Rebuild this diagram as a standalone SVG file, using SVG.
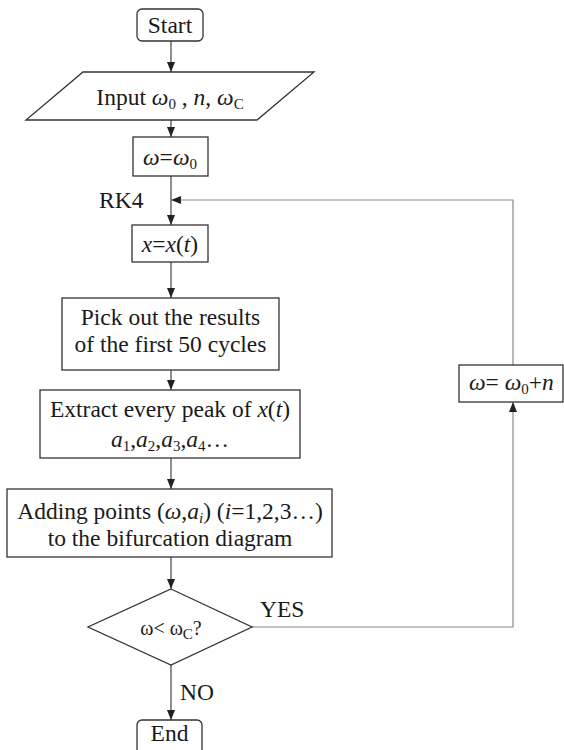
<svg xmlns="http://www.w3.org/2000/svg" width="564" height="750" viewBox="0 0 564 750" font-family="'Liberation Serif', 'Times New Roman', serif">
<style>
  .box{fill:#fff;stroke:#333;stroke-width:1.3}
  .t{font-family:'Liberation Serif','Times New Roman',serif;font-size:23.5px;fill:#1a1a1a}
  .c{text-anchor:middle}
  .i{font-style:italic}
  .s{font-size:15px}
  .ln{fill:none;stroke:#444;stroke-width:1.2}
  .fb{fill:none;stroke:#888;stroke-width:1.2}
</style>
<defs>
  <marker id="ah" markerUnits="userSpaceOnUse" markerWidth="10" markerHeight="10" viewBox="0 0 10 10" refX="10" refY="5" orient="auto">
    <path d="M0,1 L10,5 L0,9 Z" fill="#222"/>
  </marker>
</defs>
<rect width="564" height="750" fill="#fff"/>

<g id="connectors">
  <line class="ln" x1="171" y1="41" x2="171" y2="72" marker-end="url(#ah)"/>
  <line class="ln" x1="171" y1="120" x2="171" y2="137" marker-end="url(#ah)"/>
  <line class="ln" x1="171" y1="176" x2="171" y2="225" marker-end="url(#ah)"/>
  <line class="ln" x1="171" y1="262" x2="171" y2="298" marker-end="url(#ah)"/>
  <line class="ln" x1="171" y1="370" x2="171" y2="390" marker-end="url(#ah)"/>
  <line class="ln" x1="171" y1="458" x2="171" y2="489" marker-end="url(#ah)"/>
  <line class="ln" x1="171" y1="557" x2="171" y2="589" marker-end="url(#ah)"/>
  <line class="ln" x1="171" y1="665" x2="171" y2="720" marker-end="url(#ah)"/>
  <polyline class="fb" points="252,627 513,627 513,402" marker-end="url(#ah)"/>
  <polyline class="fb" points="513,365 513,200 171,200" marker-end="url(#ah)"/>
  <text class="t" x="99" y="208">RK4</text>
  <text class="t" x="260" y="617">YES</text>
  <text class="t" x="180" y="700">NO</text>
</g>

<g id="start">
  <rect class="box" x="137" y="9" width="66" height="32" rx="5"/>
  <text class="t c" x="170" y="33">Start</text>
</g>

<g id="input">
  <polygon class="box" points="83,72 314,72 257,120 26,120"/>
  <text class="t c" x="170" y="105">Input <tspan class="i">ω</tspan><tspan class="s" dy="4">0</tspan><tspan dy="-4"> , </tspan><tspan class="i">n</tspan>, <tspan class="i">ω</tspan><tspan class="s" dy="4">C</tspan></text>
</g>

<g id="init">
  <rect class="box" x="133" y="137" width="75" height="39"/>
  <text class="t c" x="170" y="165"><tspan class="i">ω</tspan>=<tspan class="i">ω</tspan><tspan class="s" dy="4">0</tspan></text>
</g>

<g id="solve">
  <rect class="box" x="132" y="225" width="76" height="37"/>
  <text class="t c" x="170" y="252"><tspan class="i">x</tspan>=<tspan class="i">x</tspan>(<tspan class="i">t</tspan>)</text>
</g>

<g id="pick">
  <rect class="box" x="62" y="298" width="217" height="72"/>
  <text class="t c" x="170.5" y="325">Pick out the results</text>
  <text class="t c" x="170.5" y="352">of the first 50 cycles</text>
</g>

<g id="extract">
  <rect class="box" x="40" y="390" width="260" height="68"/>
  <text class="t c" x="170" y="417">Extract every peak of <tspan class="i">x</tspan>(<tspan class="i">t</tspan>)</text>
  <text class="t c" x="170" y="447"><tspan class="i">a</tspan><tspan class="s" dy="4">1</tspan><tspan dy="-4">,</tspan><tspan class="i">a</tspan><tspan class="s" dy="4">2</tspan><tspan dy="-4">,</tspan><tspan class="i">a</tspan><tspan class="s" dy="4">3</tspan><tspan dy="-4">,</tspan><tspan class="i">a</tspan><tspan class="s" dy="4">4</tspan><tspan dy="-4">…</tspan></text>
</g>

<g id="adding">
  <rect class="box" x="7" y="489" width="325" height="68"/>
  <text class="t c" x="170" y="519">Adding points (<tspan class="i">ω</tspan>,<tspan class="i">a</tspan><tspan class="s i" dy="4">i</tspan><tspan dy="-4">) (</tspan><tspan class="i">i</tspan>=1,2,3…)</text>
  <text class="t c" x="170" y="546">to the bifurcation diagram</text>
</g>

<g id="decision">
  <polygon class="box" points="171,589 252,627 171,665 88,627"/>
  <text class="t c" x="171" y="635" style="font-size:20px">ω&lt; ω<tspan class="s" dy="4">C</tspan><tspan dy="-4">?</tspan></text>
</g>

<g id="increment">
  <rect class="box" x="459" y="365" width="104" height="37"/>
  <text class="t" x="469" y="390"><tspan class="i">ω</tspan>= <tspan class="i">ω</tspan><tspan class="s" dy="4">0</tspan><tspan dy="-4">+</tspan><tspan class="i">n</tspan></text>
</g>

<g id="end">
  <rect class="box" x="137" y="720" width="65" height="40" rx="5"/>
  <text class="t c" x="169.5" y="741">End</text>
</g>
</svg>
